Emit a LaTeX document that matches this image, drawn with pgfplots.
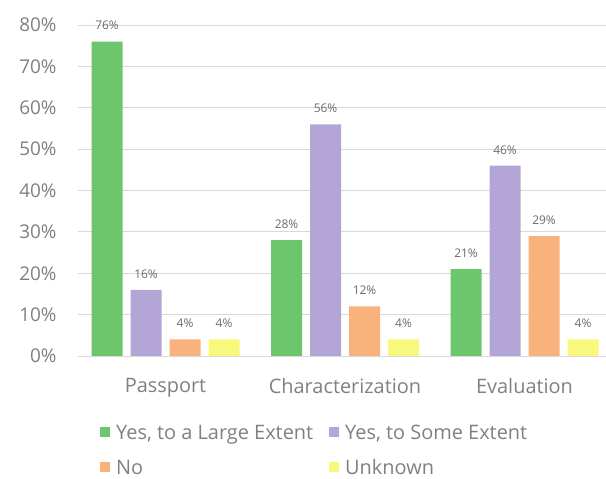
\documentclass[border=0pt]{standalone}
\usepackage{fontspec}
\setmainfont{Open Sans}
\usepackage{pgfplots}
\pgfplotsset{compat=1.18}
\definecolor{cgreen}{HTML}{6CC66B}
\definecolor{cpurple}{HTML}{B3A5D5}
\definecolor{corange}{HTML}{F9B27B}
\definecolor{cyellow}{HTML}{F7F87C}
\definecolor{cgrid}{HTML}{D9D9D9}
\definecolor{ctext}{HTML}{808080}
\definecolor{clabel}{HTML}{6A6A6A}
\begin{document}
\begin{tikzpicture}
\useasboundingbox (0bp,0bp) rectangle (606bp,479bp);
\begin{axis}[
  at={(78bp,123bp)}, anchor=south west,
  scale only axis, width=528bp, height=331bp,
  ymin=0, ymax=80, xmin=-0.4875, xmax=2.454,
  /pgf/number format/assume math mode=true,
  ybar=8bp, bar width=31bp,
  axis line style={draw=none},
  ytick={0,10,...,80},
  ymajorgrids, grid style={cgrid, line width=0.9bp},
  major tick length=0pt,
  yticklabel={\pgfmathprintnumber{\tick}\%},
  yticklabel style={font=\fontsize{19}{22}\selectfont, text=ctext, xshift=-18bp},
  xtick=data,
  xticklabels={Passport, Characterization, Evaluation},
  xticklabel style={font=\fontsize{20}{24}\selectfont, text=ctext, yshift=-19bp},
  nodes near coords={\pgfmathprintnumber{\pgfplotspointmeta}\%},
  every node near coord/.append style={font=\fontsize{12}{14}\selectfont, text=clabel, yshift=8bp},
  legend columns=2,
  legend cell align=left,
  legend image code/.code={\fill[#1] (0bp,-4bp) rectangle (10bp,6bp); \path (14bp,0bp);},
  legend style={at={(0.036,-0.195)}, anchor=north west, draw=none, fill=none,
    font=\fontsize{20}{24}\selectfont, text=ctext,
    row sep=15bp,
    /tikz/every even column/.append style={column sep=14bp}},
]
\addplot[fill=cgreen, draw=none] coordinates {(0,76) (1,28) (2,21)};
\addplot[fill=cpurple, draw=none] coordinates {(0,16) (1,56) (2,46)};
\addplot[fill=corange, draw=none] coordinates {(0,4) (1,12) (2,29)};
\addplot[fill=cyellow, draw=none] coordinates {(0,4) (1,4) (2,4)};
\legend{{Yes, to a Large Extent}, {Yes, to Some Extent}, No, Unknown}
\end{axis}
\end{tikzpicture}
\end{document}
